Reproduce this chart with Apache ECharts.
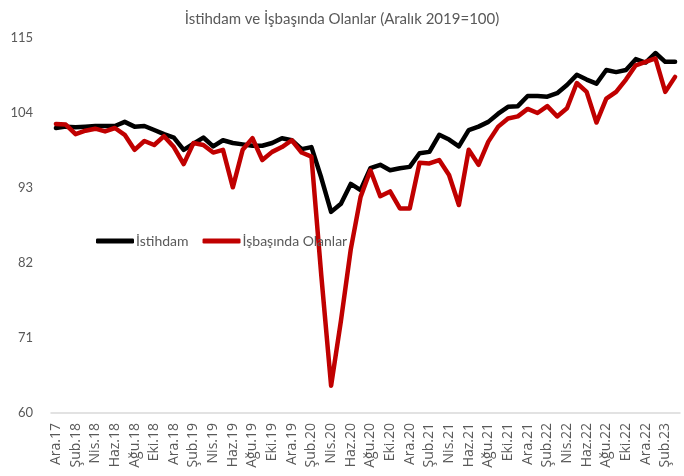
<!DOCTYPE html>
<html>
<head>
<meta charset="utf-8">
<script src="https://cdn.jsdelivr.net/npm/echarts@6/dist/echarts.min.js"></script>
<style>
  html, body { margin: 0; padding: 0; background: #fff; }
  #main { width: 684px; height: 476px; }
</style>
</head>
<body>
<div id="main"></div>
<script>
// aylar: Ara.17 .. Mar.23
var monthNames = ['Oca', 'Şub', 'Mar', 'Nis', 'May', 'Haz', 'Tem', 'Ağu', 'Eyl', 'Eki', 'Kas', 'Ara'];
var months = ['Ara.17'];
for (var y = 18; y <= 23; y++) {
    for (var m = 0; m < 12; m++) {
        if (y === 23 && m > 2) break;
        months.push(monthNames[m] + '.' + y);
    }
}

var istihdam = [
    101.8, 102.0, 101.9, 102.0, 102.1, 102.1, 102.1, 102.7, 102.0, 102.1, 101.5, 100.9,
    100.4, 98.6, 99.5, 100.4, 99.1, 100.0, 99.6, 99.4, 99.2, 99.2, 99.6, 100.3,
    100.0, 98.7, 99.0, 94.5, 89.5, 90.7, 93.6, 92.7, 95.9, 96.4, 95.6, 95.9,
    96.1, 98.1, 98.3, 100.8, 100.1, 99.1, 101.5, 102.0, 102.7, 103.9, 104.9, 105.0,
    106.5, 106.5, 106.4, 106.9, 108.1, 109.6, 108.9, 108.3, 110.3, 110.0, 110.3, 111.9,
    111.4, 112.8, 111.5, 111.5
];

var isbasinda = [
    102.4, 102.3, 100.9, 101.4, 101.7, 101.3, 101.8, 100.8, 98.6, 99.9, 99.3, 100.6,
    99.0, 96.5, 99.6, 99.3, 98.2, 98.6, 93.1, 98.6, 100.3, 97.1, 98.3, 99.0,
    100.0, 98.2, 97.6, 80.2, 64.0, 73.5, 84.0, 91.7, 95.6, 91.8, 92.5, 90.0,
    90.0, 96.7, 96.6, 97.1, 94.9, 90.5, 98.6, 96.4, 99.8, 102.0, 103.2, 103.5,
    104.6, 104.0, 105.0, 103.5, 104.7, 108.4, 107.1, 102.6, 106.1, 107.1, 108.9, 111.0,
    111.5, 112.0, 107.1, 109.3
];

var chartDom = document.getElementById('main');
var myChart = echarts.init(chartDom);
var option;

var fontName = 'Lato';

option = {
    backgroundColor: '#fff',
    animation: false,
    title: {
        text: 'İstihdam ve İşbaşında Olanlar (Aralık 2019=100)',
        left: 'center',
        top: 7,
        textStyle: {
            color: '#595959',
            fontSize: 15,
            fontWeight: 'normal',
            fontFamily: fontName
        }
    },
    legend: {
        left: 91,
        top: 229,
        itemWidth: 38,
        itemHeight: 5,
        itemGap: 14,
        icon: 'roundRect',
        textStyle: {
            color: '#595959',
            fontSize: 14,
            fontFamily: fontName,
            padding: [0, 0, 0, -3]
        },
        data: ['İstihdam', 'İşbaşında Olanlar']
    },
    grid: {
        left: 51,
        right: 4,
        top: 38,
        bottom: 63
    },
    xAxis: {
        type: 'category',
        data: months,
        boundaryGap: true,
        axisLine: { lineStyle: { color: '#d9d9d9', width: 1.5 } },
        axisTick: { interval: 1, length: 5, lineStyle: { color: '#d9d9d9', width: 1.5 } },
        axisLabel: {
            interval: 1,
            rotate: 90,
            color: '#595959',
            fontSize: 14,
            fontFamily: 'Open Sans',
            margin: 10
        }
    },
    yAxis: {
        type: 'value',
        min: 60,
        max: 115,
        interval: 11,
        axisLine: { show: false },
        axisTick: { show: false },
        splitLine: { show: false },
        axisLabel: {
            color: '#595959',
            fontSize: 13,
            fontFamily: fontName,
            margin: 18
        }
    },
    series: [
        {
            name: 'İstihdam',
            type: 'line',
            data: istihdam,
            showSymbol: false,
            symbol: 'none',
            lineStyle: { color: '#000000', width: 4.5, cap: 'round', join: 'round' },
            itemStyle: { color: '#000000' }
        },
        {
            name: 'İşbaşında Olanlar',
            type: 'line',
            data: isbasinda,
            showSymbol: false,
            symbol: 'none',
            lineStyle: { color: '#c00000', width: 4.5, cap: 'round', join: 'round' },
            itemStyle: { color: '#c00000' }
        }
    ]
};

option && myChart.setOption(option);
</script>
</body>
</html>
